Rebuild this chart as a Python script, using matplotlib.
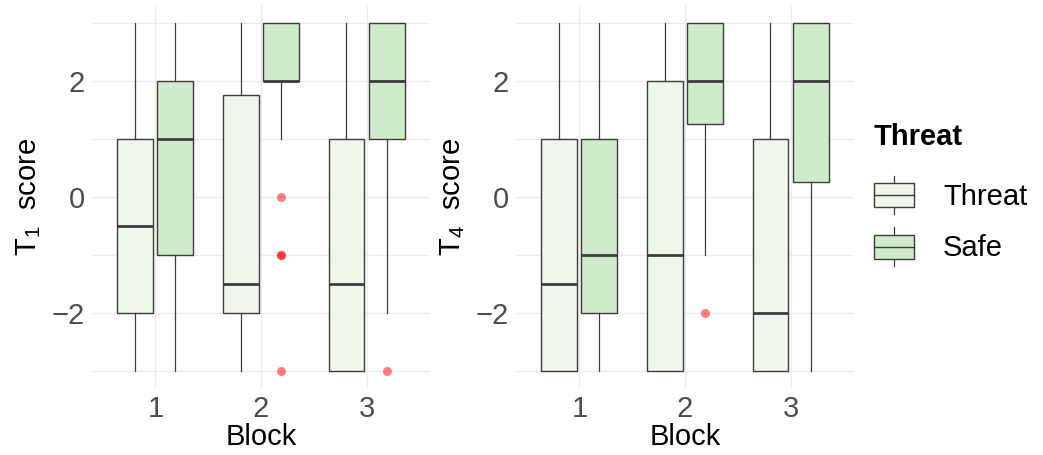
import numpy as np
import matplotlib
matplotlib.use("Agg")
from matplotlib import pyplot as plt
from matplotlib.patches import Rectangle, Patch
from matplotlib.lines import Line2D
from matplotlib.legend_handler import HandlerBase

plt.rcParams['font.family'] = ['Liberation Sans', 'DejaVu Sans']
plt.rcParams['mathtext.fontset'] = 'custom'
plt.rcParams['mathtext.rm'] = 'Liberation Sans'
plt.rcParams['mathtext.it'] = 'Liberation Sans'

# data
blocks = [1, 2, 3]
groups = ['Threat', 'Safe']

# T1 score: per block, [Threat, Safe]
t1_whislo = [[-3, -3], [-3, 1], [-3, -2]]
t1_q1 = [[-2, -1], [-2, 2], [-3, 1]]
t1_med = [[-0.5, 1], [-1.5, 2], [-1.5, 2]]
t1_q3 = [[1, 2], [1.75, 3], [1, 3]]
t1_whishi = [[3, 3], [3, 3], [3, 3]]
t1_fliers = [[[], []], [[], [0, -1, -1, -3]], [[], [-3]]]

# T4 score
t4_whislo = [[-3, -3], [-3, -1], [-3, -3]]
t4_q1 = [[-3, -2], [-3, 1.25], [-3, 0.25]]
t4_med = [[-1.5, -1], [-1, 2], [-2, 2]]
t4_q3 = [[1, 1], [2, 3], [1, 3]]
t4_whishi = [[3, 3], [3, 3], [3, 3]]
t4_fliers = [[[], []], [[], [-2]], [[], []]]

fills = ['#EFF7EB', '#D0EACC']
edge = '#3C3C3C'
grid_col = '#EBEBEB'
tick_col = '#4D4D4D'
FS = 21


def draw_panel(ax, whislo, q1, med, q3, whishi, fliers, ylab):
    for g in range(2):
        stats = []
        pos = []
        for b in range(3):
            stats.append(dict(whislo=whislo[b][g], q1=q1[b][g], med=med[b][g],
                              q3=q3[b][g], whishi=whishi[b][g], fliers=fliers[b][g]))
            pos.append(blocks[b] + (-0.19 if g == 0 else 0.19))
        ax.bxp(stats, positions=pos, widths=0.34, patch_artist=True,
               showcaps=False,
               boxprops=dict(facecolor=fills[g], edgecolor=edge, linewidth=1.0),
               whiskerprops=dict(color=edge, linewidth=0.9),
               medianprops=dict(color=edge, linewidth=2.0),
               flierprops=dict(marker='o', markerfacecolor='red', markeredgecolor='none',
                               alpha=0.5, markersize=6.5),
               manage_ticks=False, zorder=3)
    ax.set_xlim(0.4, 3.6)
    ax.set_ylim(-3.3, 3.3)
    ax.set_xticks(blocks)
    ax.set_yticks([-2, 0, 2])
    ax.set_yticks([-3, -1, 1, 3], minor=True)
    ax.grid(True, which='both', color=grid_col, linewidth=1.0, zorder=0)
    ax.set_axisbelow(True)
    for s in ax.spines.values():
        s.set_visible(False)
    ax.tick_params(which='both', length=0, labelsize=FS, colors=tick_col, pad=5)
    ax.set_xlabel('Block', fontsize=FS, labelpad=0, color='black')
    ax.set_ylabel(ylab, fontsize=FS, labelpad=6, color='black')


class BoxKey(HandlerBase):
    def create_artists(self, legend, orig_handle, xdescent, ydescent,
                       width, height, fontsize, trans):
        x0, y0 = -xdescent, -ydescent
        fc = orig_handle.get_facecolor()
        lo, hi = y0 + 0.19 * height, y0 + 0.81 * height
        xm = x0 + width / 2
        arts = [Line2D([xm, xm], [y0, lo], color=edge, lw=0.9),
                Line2D([xm, xm], [hi, y0 + height], color=edge, lw=0.9),
                Rectangle((x0, lo), width, hi - lo, facecolor=fc, edgecolor=edge, lw=1.0),
                Line2D([x0, x0 + width], [y0 + height / 2] * 2, color=edge, lw=1.0)]
        for a in arts:
            a.set_transform(trans)
        return arts


fig = plt.figure(figsize=(10.43, 4.55), dpi=100)
ax1 = fig.add_axes([0.0882, 0.147, 0.324, 0.841])
ax2 = fig.add_axes([0.4947, 0.147, 0.324, 0.841])

draw_panel(ax1, t1_whislo, t1_q1, t1_med, t1_q3, t1_whishi, t1_fliers, r'T$_1$  score')
draw_panel(ax2, t4_whislo, t4_q1, t4_med, t4_q3, t4_whishi, t4_fliers, r'T$_4$  score')

handles = [Patch(facecolor=fills[i]) for i in range(2)]
leg = fig.legend(handles, groups, title='Threat', loc='upper left',
                 bbox_to_anchor=(0.838, 0.73), frameon=False,
                 fontsize=FS, title_fontproperties={'weight': 'bold', 'size': FS},
                 handler_map={Patch: BoxKey()}, handlelength=1.37,
                 handleheight=1.65, labelspacing=0.45, handletextpad=1.0,
                 borderaxespad=0, borderpad=0)
leg._legend_box.align = 'left'
leg._legend_box.sep = 18

plt.savefig('out.png', dpi=100)
